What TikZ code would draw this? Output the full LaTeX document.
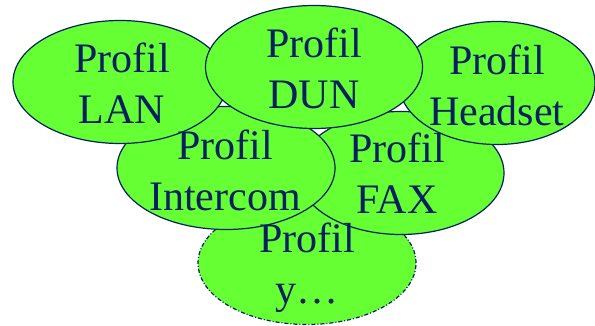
\documentclass[tikz,border=0pt]{standalone}
\usepackage{fontspec}
\setmainfont{Liberation Serif}
\usetikzlibrary{shapes.geometric}
\definecolor{leaf}{RGB}{102,255,51}
\definecolor{ink}{RGB}{0,32,96}
\begin{document}
\begin{tikzpicture}[x=1pt, y=1pt,
  profil/.style={ellipse, draw=ink, fill=leaf, line width=1.2pt, minimum height=123pt, inner sep=0pt},
  ptext/.style={text=ink, align=center, inner sep=0pt, font=\fontsize{42}{51}\selectfont}]
  \useasboundingbox (0,0) rectangle (595,325);

  \node at (307,62) [profil, minimum width=218pt, dash pattern=on 4pt off 2pt on 1pt off 2pt] (y) {};
  \foreach \name/\x/\y/\w in {fax/401/152/206, icom/226/157/218, head/497/242/196, lan/120/243/214, dun/314/258/217} {
    \node at (\x,\y) [profil, minimum width=\w pt] (\name) {};
  }

  \foreach \name/\txt/\dx/\dy in {lan/LAN/2/-1, dun/DUN/0/-1, head/Headset/0/-2, icom/Intercom/-1/-2, fax/FAX/-4/0, y/y\dots/0/-5} {
    \node at ([shift={(\dx,\dy)}]\name.center) [ptext] (\name-t) {Profil\\\txt};
  }
\end{tikzpicture}
\end{document}
